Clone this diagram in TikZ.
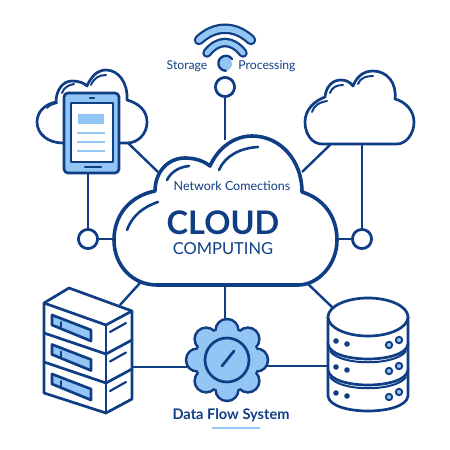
\documentclass[tikz,border=0pt]{standalone}
\usepackage{fontspec}
\setmainfont{Lato}
\definecolor{navy}{HTML}{0F3E85}
\definecolor{skyblue}{HTML}{93C5F5}
\tikzset{
    shape line/.style={draw=navy,line width=2.7pt,line join=round,line cap=round},
    hub/.style={circle,draw=navy,line width=2.6pt,fill=white,minimum size=19pt,inner sep=0pt},
    link/.style={draw=navy,line width=2.4pt},
    gloss/.style={draw=navy,line width=2pt,line cap=round},
    label/.style={text=navy,inner sep=0pt},
}
\begin{document}
\begin{tikzpicture}[x=1pt,y=-1pt]
        \useasboundingbox (0,0) rectangle (450,450);
        % hubs and free ends
        \node [hub] (hubtop) at (225,87) {};
        \node [hub] (hubleft) at (88,239) {};
        \node [hub] (hubright) at (362,239) {};
        \coordinate (centertop) at (225,140);
        \coordinate (centerleft) at (116,239);
        \coordinate (centerright) at (335,239);
        \coordinate (centerbottom) at (225,285);
        \coordinate (tabletfoot) at (88,170);
        \coordinate (tabletlink) at (128,143);
        \coordinate (tabletend) at (158,172);
        \coordinate (rightfoot) at (362,143);
        \coordinate (rightlink) at (331,144);
        \coordinate (rightend) at (302,172);
        \coordinate (serverlink) at (120,305);
        \coordinate (serverend) at (140,283);
        \coordinate (serverside) at (132,367);
        \coordinate (gearleft) at (190,367);
        \coordinate (gearright) at (264,366);
        \coordinate (gearfoot) at (225,320);
        \coordinate (storeside) at (328,366);
        \coordinate (storelink) at (333,308);
        \coordinate (storeend) at (307,283);
        % connectors
        \draw [link] (hubtop) -- (centertop);
        \draw [link] (hubleft) -- (centerleft);
        \draw [link] (hubright) -- (centerright);
        \draw [link] (hubleft) -- (tabletfoot);
        \draw [link] (tabletlink) -- (tabletend);
        \draw [link] (hubright) -- (rightfoot);
        \draw [link] (rightlink) -- (rightend);
        \draw [link] (serverlink) -- (serverend);
        \draw [link] (serverside) -- (gearleft);
        \draw [link] (gearright) -- (storeside);
        \draw [link] (centerbottom) -- (gearfoot);
        \draw [link] (storelink) -- (storeend);
        \node [hub] at (hubtop) {};
        \node [hub] at (hubleft) {};
        \node [hub] at (hubright) {};
        % wifi
        \draw [navy,line width=10.5pt,line cap=round] (199,40) .. controls (215,25) and (235,25) .. (251,40);
        \draw [skyblue,line width=6pt,line cap=round] (199,40) .. controls (215,25) and (235,25) .. (251,40);
        \draw [navy,line width=9.5pt,line cap=round] (207,53) .. controls (218,39) and (232,39) .. (243,53);
        \draw [skyblue,line width=5pt,line cap=round] (207,53) .. controls (218,39) and (232,39) .. (243,53);
        \fill [skyblue] (225,64) circle (7);
        \draw [navy,line width=2.4pt,line cap=round] (232,59) arc (-35:-270:7.5);
        \node [label,font=\fontsize{12.2}{14}\selectfont] (storage) at (187,66) {Storage};
        \node [label,font=\fontsize{12.2}{14}\selectfont] (processing) at (267,66) {Processing};
        % center cloud
        \draw [navy,line width=3.6pt,line join=round,fill=white] (157,285) .. controls (132,285) and (114,265) .. (114,240)
            .. controls (114,215) and (130,196) .. (155,191)
            .. controls (155,172) and (168,158) .. (185,158) .. controls (195,158) and (204,161) .. (210,166)
            .. controls (218,148) and (234,136) .. (252,136) .. controls (280,136) and (302,160) .. (302,192)
            .. controls (322,198) and (337,215) .. (337,240) .. controls (337,265) and (318,285) .. (298,285) -- cycle;
        \draw [navy,line width=2.6pt,line cap=round] (127,230) .. controls (132,216) and (143,207) .. (158,202);
        \draw [navy,line width=2.6pt,line cap=round] (167,180) .. controls (171,172) and (179,167) .. (189,166);
        \draw [navy,line width=2.6pt,line cap=round] (219,170) .. controls (225,156) and (240,148) .. (258,147);
        \node [label,font=\fontsize{12.5}{14}\selectfont] (network) at (232,186) {Network Comections};
        \node [label,font=\fontsize{32.5}{33}\bfseries\selectfont] (cloud) at (223,223) {CLOUD};
        \node [label,font=\fontsize{16.5}{18}\selectfont] (computing) at (223,249) {COMPUTING};
        % left cloud
        \draw [shape line,fill=white] (63,143) .. controls (48,143) and (37,134) .. (37,122) .. controls (37,112) and (45,104) .. (56,102)
            .. controls (56,90) and (63,81) .. (72,81) .. controls (79,81) and (84,83) .. (87,86)
            .. controls (91,77) and (97,70) .. (106,70) .. controls (118,70) and (128,82) .. (127,100)
            .. controls (138,103) and (147,110) .. (147,122) .. controls (147,134) and (138,143) .. (127,143) -- cycle;
        \draw [gloss] (47,108) .. controls (49,105) and (53,104) .. (57,103);
        \draw [gloss] (62,93) .. controls (64,87) and (69,85) .. (74,84);
        \draw [gloss] (91,85) .. controls (94,78) and (99,75) .. (106,75);
        % tablet
        \draw [shape line,fill=skyblue,rounded corners=4pt] (64,93) rectangle (119,173);
        \draw [shape line,fill=white] (71,103) rectangle (113,162);
        \fill [skyblue] (78,114) rectangle (104,124);
        \foreach \y in {133,142,151} {
            \draw [skyblue,line width=1.5pt] (77,\y) -- (105,\y);
        }
        \draw [navy,line width=2.6pt,line cap=round] (90,98) -- (94,98);
        \draw [navy,line width=2.2pt,line cap=round] (85,167) -- (101,167);
        % right cloud
        \draw [shape line,fill=white] (322,144) .. controls (312,144) and (305,134) .. (305,122) .. controls (305,110) and (314,101) .. (325,97)
            .. controls (326,87) and (332,80) .. (341,80) .. controls (346,80) and (350,82) .. (353,86)
            .. controls (357,76) and (364,71) .. (373,71) .. controls (387,71) and (397,83) .. (395,99)
            .. controls (406,102) and (414,111) .. (414,122) .. controls (414,134) and (406,144) .. (397,144) -- cycle;
        \draw [gloss] (312,112) .. controls (314,105) and (320,102) .. (327,101);
        \draw [gloss] (330,93) .. controls (332,87) and (337,85) .. (343,85);
        \draw [gloss] (358,84) .. controls (360,78) and (366,76) .. (373,76);
        % server
        \draw [shape line,fill=white] (69,288) -- (44,303) -- (44,393) -- (106,413) -- (132,399) -- (132,311) -- cycle;
        \draw [shape line] (44,303) -- (106,325) -- (132,311);
        \draw [shape line] (106,325) -- (106,413);
        \foreach \y in {0,29} {
            \draw [shape line] (44,333+\y) -- (106,354+\y) -- (132,340+\y);
        }
        \foreach \y in {0,29.5,59} {
            \draw [shape line,fill=skyblue] (52,315+\y) -- (91,330+\y) -- (91,341+\y) -- (52,325+\y) -- cycle;
            \draw [navy,line width=2pt,line cap=round] (61,322+\y) -- (61,327+\y);
            \draw [navy,line width=2.2pt,line cap=round] (110,332+\y) -- (126,323+\y);
        }
        % gear
        \foreach \a in {0,45,...,315} {
            \fill [navy] (227,360) ++(\a:29.5) circle (12.8);
        }
        \fill [navy] (227,360) circle (33);
        \foreach \a in {0,45,...,315} {
            \fill [skyblue] (227,360) ++(\a:29.5) circle (10.2);
        }
        \fill [skyblue] (227,360) circle (31);
        \draw [shape line] (227,360) circle (22);
        \draw [shape line] (222,366) -- (234,351);
        % database
        \foreach \y in {52,26,0} {
            \draw [shape line,fill=white] (328,317+\y) -- (328,344+\y) .. controls (330,364+\y) and (406,364+\y) .. (408,344+\y) -- (408,317+\y) -- cycle;
        }
        \draw [shape line,fill=white] (368,317) ellipse (40 and 19);
        \foreach \y in {0,26} {
            \draw [navy,line width=2pt,line cap=round] (330,351+\y) .. controls (340,366+\y) and (396,366+\y) .. (406,351+\y);
        }
        \foreach \y in {0,26,52} {
            \fill [navy] (336,341+\y) circle (2.8);
            \fill [navy] (347,344+\y) circle (2.8);
            \draw [navy,line width=1.9pt,fill=skyblue] (389,345+\y) circle (3.2);
            \draw [navy,line width=1.9pt,fill=skyblue] (399,340+\y) circle (3.2);
        }
        % caption
        \node [label,font=\fontsize{14.6}{16}\bfseries\selectfont] (caption) at (231,415) {Data Flow System};
        \coordinate (ruleleft) at (212,428);
        \coordinate (ruleright) at (260,428);
        \draw [skyblue,line width=1.2pt] (ruleleft) -- (ruleright);
    \end{tikzpicture}
\end{document}
